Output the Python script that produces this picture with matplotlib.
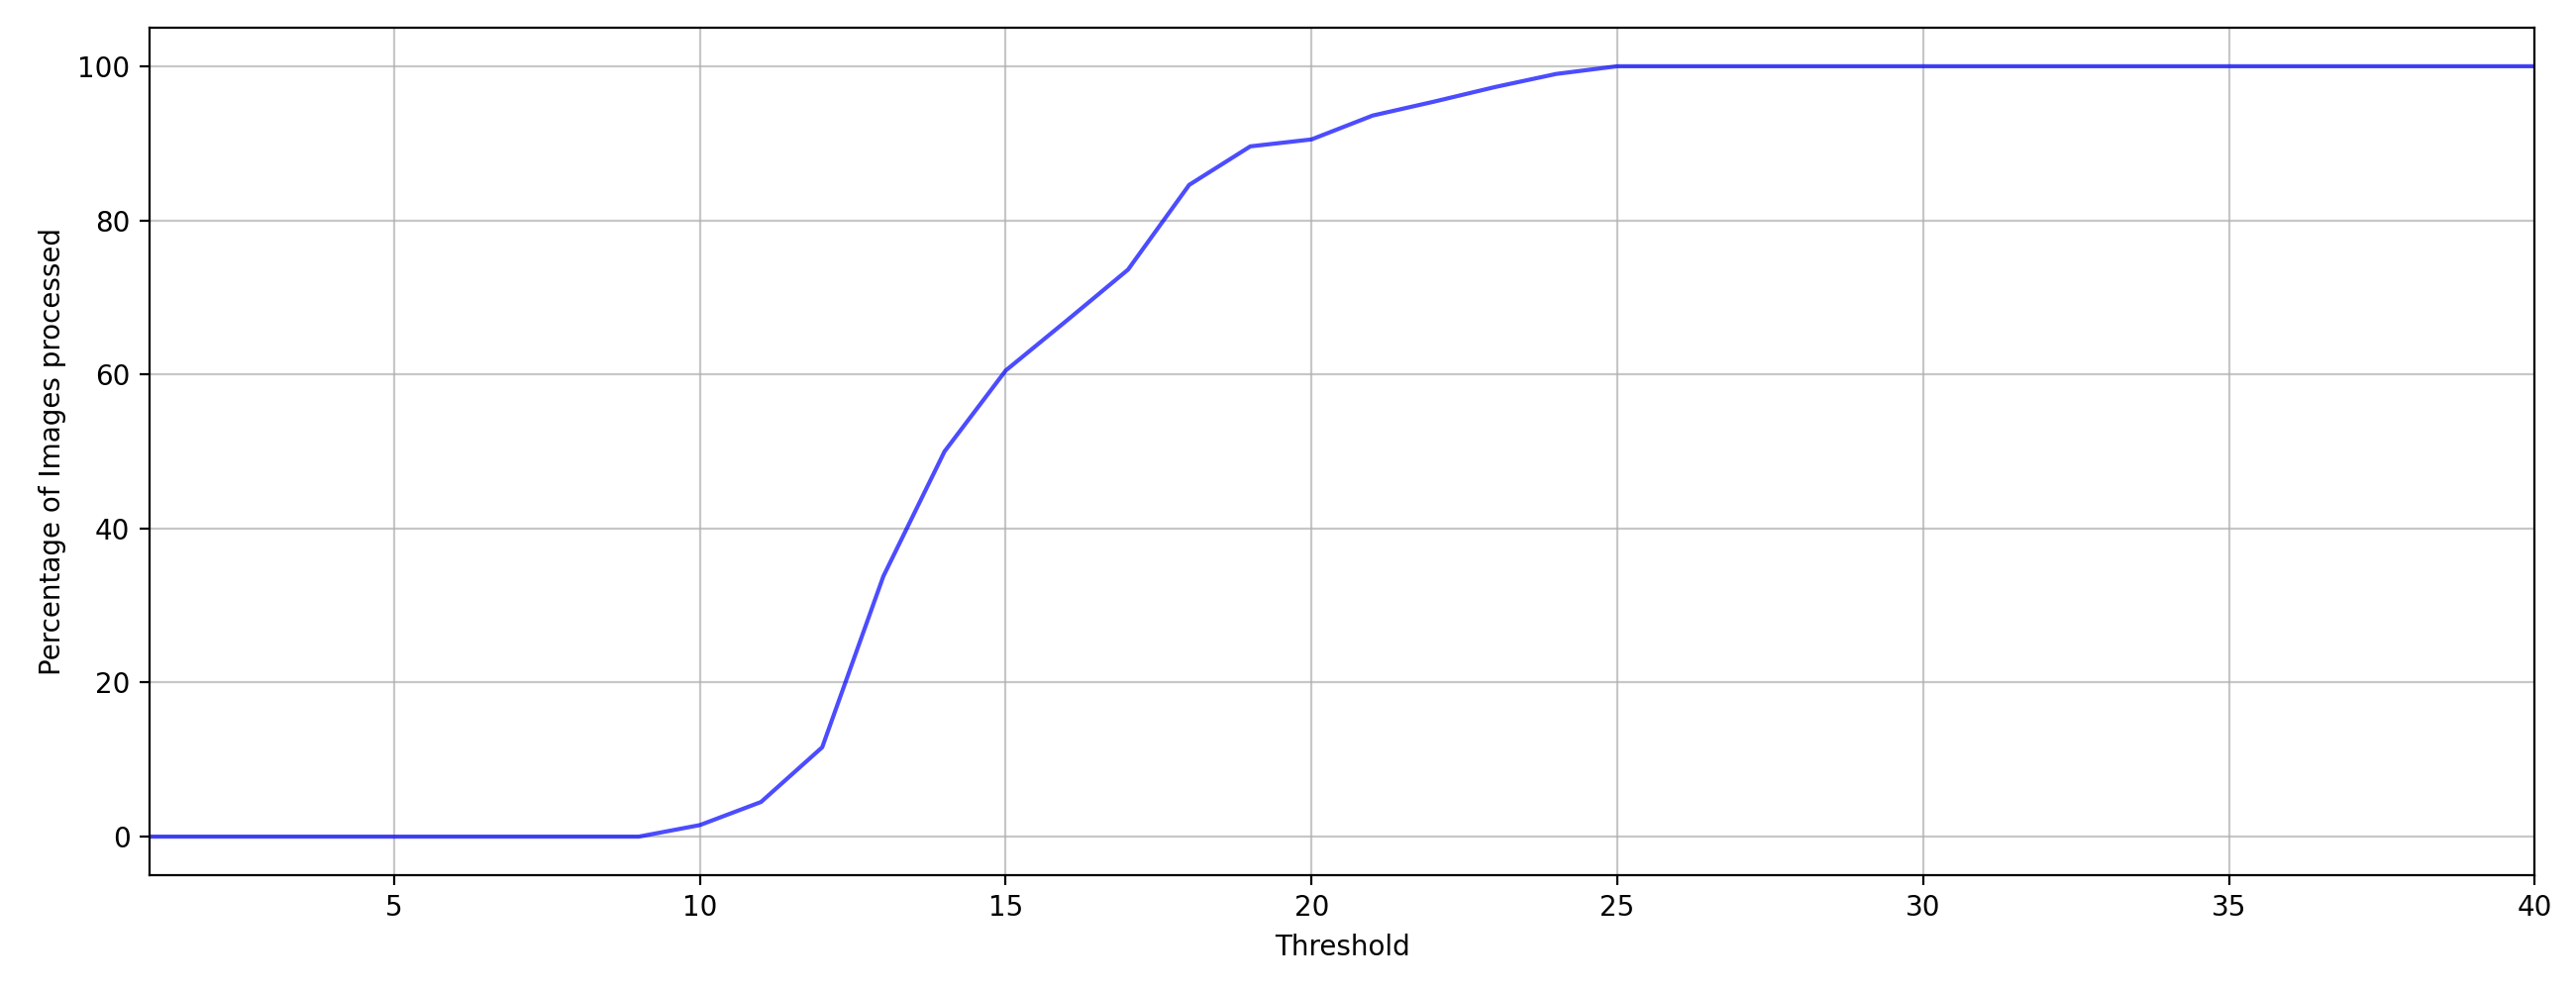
import numpy as np
import matplotlib
matplotlib.use("Agg")
import matplotlib.pyplot as plt

# threshold values and share of images processed
thresholds = list(range(1, 41))
pct_processed = [0, 0, 0, 0, 0, 0, 0, 0, 0,
                 1.5, 4.5, 11.6, 33.8, 50.0, 60.5, 67.0, 73.6, 84.6, 89.6,
                 90.5, 93.6, 95.4, 97.3, 99.0, 100] + [100] * 15

fig, ax = plt.subplots(figsize=(13.005, 5), dpi=200)
fig.subplots_adjust(left=0.058, right=0.984, top=0.972, bottom=0.116)

ax.plot(thresholds, pct_processed, color='blue', alpha=0.7)
ax.set_xlim(1, 40)
ax.set_xlabel('Threshold')
ax.set_ylabel('Percentage of Images processed')
ax.grid(True, alpha=0.7)

fig.savefig('out.png', dpi=200)
